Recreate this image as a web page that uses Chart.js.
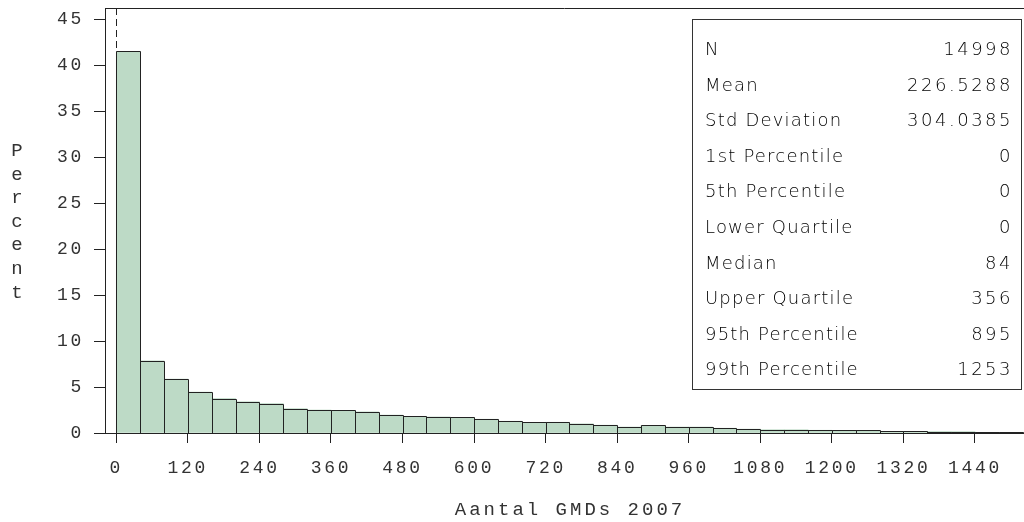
<!DOCTYPE html>
<html><head><meta charset="utf-8">
<script src="https://cdn.jsdelivr.net/npm/chart.js@4.4.1/dist/chart.umd.min.js"></script>
<style>html,body{margin:0;padding:0;background:#fff;overflow:hidden}#wrap{width:1024px;height:522px;position:relative}</style>
</head><body><div id="wrap"><canvas id="c" width="1024" height="522"></canvas></div>
<script>
const binStart = [0,40,80,120,160,200,240,280,320,360,400,440,480,520,560,600,640,680,720,760,800,840,880,920,960,1000,1040,1080,1120,1160,1200,1240,1280,1320,1360,1400,1440,1480,1520];
const binWidth = 40;
const percent = [41.5,7.85,5.85,4.45,3.75,3.4,3.2,2.65,2.5,2.45,2.3,1.95,1.8,1.75,1.7,1.5,1.28,1.15,1.17,1.0,0.85,0.65,0.82,0.65,0.65,0.52,0.42,0.36,0.36,0.3,0.29,0.28,0.18,0.17,0.16,0.15,0.07,0.06,0.04];
const xTicks = [0,120,240,360,480,600,720,840,960,1080,1200,1320,1440];
const yTicks = [0,5,10,15,20,25,30,35,40,45];
const xTitle = 'Aantal GMDs 2007';
const yTitle = 'Percent';
const refLineX = 0;
const statLabels = ['N','Mean','Std Deviation','1st Percentile','5th Percentile','Lower Quartile','Median','Upper Quartile','95th Percentile','99th Percentile'];
const statValues = ['14998','226.5288','304.0385','0','0','0','84','356','895','1253'];

const INK = '#222';
const TXT = '#333';
const MONO = '"Liberation Mono", "Courier New", monospace';
const SPACING = '2.7px';

const overlay = {
  id: 'overlay',
  beforeDraw(chart) { chart.ctx.letterSpacing = SPACING; },
  beforeDatasetsDraw(chart) {
    const ctx = chart.ctx, a = chart.chartArea;
    const x = Math.round(chart.scales.x.getPixelForValue(refLineX)) + 0.5;
    ctx.save();
    ctx.strokeStyle = INK; ctx.lineWidth = 1; ctx.setLineDash([7, 4]);
    ctx.beginPath(); ctx.moveTo(x, a.top); ctx.lineTo(x, a.bottom); ctx.stroke();
    ctx.restore();
  },
  afterDatasetsDraw(chart) {
    const ctx = chart.ctx, a = chart.chartArea;
    const meta = chart.getDatasetMeta(0);
    ctx.save();
    ctx.beginPath(); ctx.rect(a.left, a.top, a.right - a.left, a.bottom - a.top); ctx.clip();
    ctx.strokeStyle = INK; ctx.lineWidth = 1;
    meta.data.forEach(bar => {
      const p = bar.getProps(['x', 'y', 'width', 'base'], true);
      const l = Math.round(p.x - p.width / 2) + 0.5;
      const r = Math.round(p.x + p.width / 2) + 0.5;
      const t = Math.round(p.y) + 0.5;
      const b = Math.round(p.base) + 0.5;
      ctx.beginPath(); ctx.moveTo(l, b); ctx.lineTo(l, t); ctx.lineTo(r, t); ctx.lineTo(r, b); ctx.stroke();
    });
    ctx.restore();
  },
  afterDraw(chart) {
    const ctx = chart.ctx, a = chart.chartArea;
    ctx.save();
    ctx.strokeStyle = INK; ctx.lineWidth = 1;
    ctx.beginPath(); ctx.moveTo(a.left, a.top + 0.5); ctx.lineTo(chart.width, a.top + 0.5); ctx.stroke();
    ctx.fillStyle = TXT;
    ctx.font = '19px ' + MONO;
    ctx.letterSpacing = '3px';
    ctx.textAlign = 'center'; ctx.textBaseline = 'middle';
    ctx.fillText(xTitle, 570, 510);
    ctx.letterSpacing = '0px';
    [...yTitle].forEach((ch, i) => ctx.fillText(ch, 17, 151 + i * 23.6));
    const bx = 692.5, by = 19.5, bw = 329, bh = 370;
    ctx.fillStyle = '#fff'; ctx.fillRect(bx, by, bw, bh);
    ctx.strokeStyle = '#333'; ctx.strokeRect(bx, by, bw, bh);
    ctx.fillStyle = '#000';
    ctx.font = '300 18px "DejaVu Sans", sans-serif';
    ctx.textBaseline = 'alphabetic';
    statLabels.forEach((lab, i) => {
      const y = 55 + i * 35.6;
      ctx.letterSpacing = '1.2px'; ctx.textAlign = 'left';
      ctx.fillText(lab, 705, y);
      ctx.letterSpacing = '2.5px'; ctx.textAlign = 'right';
      ctx.fillText(statValues[i], 1013, y);
    });
    ctx.restore();
  }
};

new Chart(document.getElementById('c'), {
  type: 'bar',
  data: {
    datasets: [{
      data: binStart.map((s, i) => ({ x: s + binWidth / 2, y: percent[i] })),
      backgroundColor: '#BDDAC6',
      borderWidth: 0,
      barPercentage: 1,
      categoryPercentage: 1
    }]
  },
  options: {
    responsive: false,
    animation: false,
    devicePixelRatio: 1,
    layout: { padding: { top: 8, right: 0, left: 0, bottom: 0 } },
    plugins: { legend: { display: false }, tooltip: { enabled: false } },
    scales: {
      x: {
        type: 'linear', min: -18.95, max: 1522.2, offset: false,
        afterBuildTicks: s => { s.ticks = xTicks.map(v => ({ value: v })); },
        afterFit: s => { s.height = 89; s.paddingLeft = 0; s.paddingRight = 0; },
        grid: { display: true, offset: false, drawOnChartArea: false, drawTicks: true, tickLength: 10, tickColor: INK, tickWidth: 1 },
        border: { display: true, color: INK, width: 1 },
        ticks: { autoSkip: false, maxRotation: 0, padding: 14, color: TXT, font: { family: MONO, size: 18 }, callback: v => String(v) }
      },
      y: {
        min: 0, max: 46.2,
        afterBuildTicks: s => { s.ticks = yTicks.map(v => ({ value: v })); },
        afterFit: s => { s.width = 105; s.paddingTop = 0; s.paddingBottom = 0; },
        grid: { display: true, drawOnChartArea: false, drawTicks: true, tickLength: 11, tickColor: INK, tickWidth: 1 },
        border: { display: true, color: INK, width: 1 },
        ticks: { padding: 10, color: TXT, font: { family: MONO, size: 18 }, callback: v => String(v) }
      }
    }
  },
  plugins: [overlay]
});
</script>
</body></html>
